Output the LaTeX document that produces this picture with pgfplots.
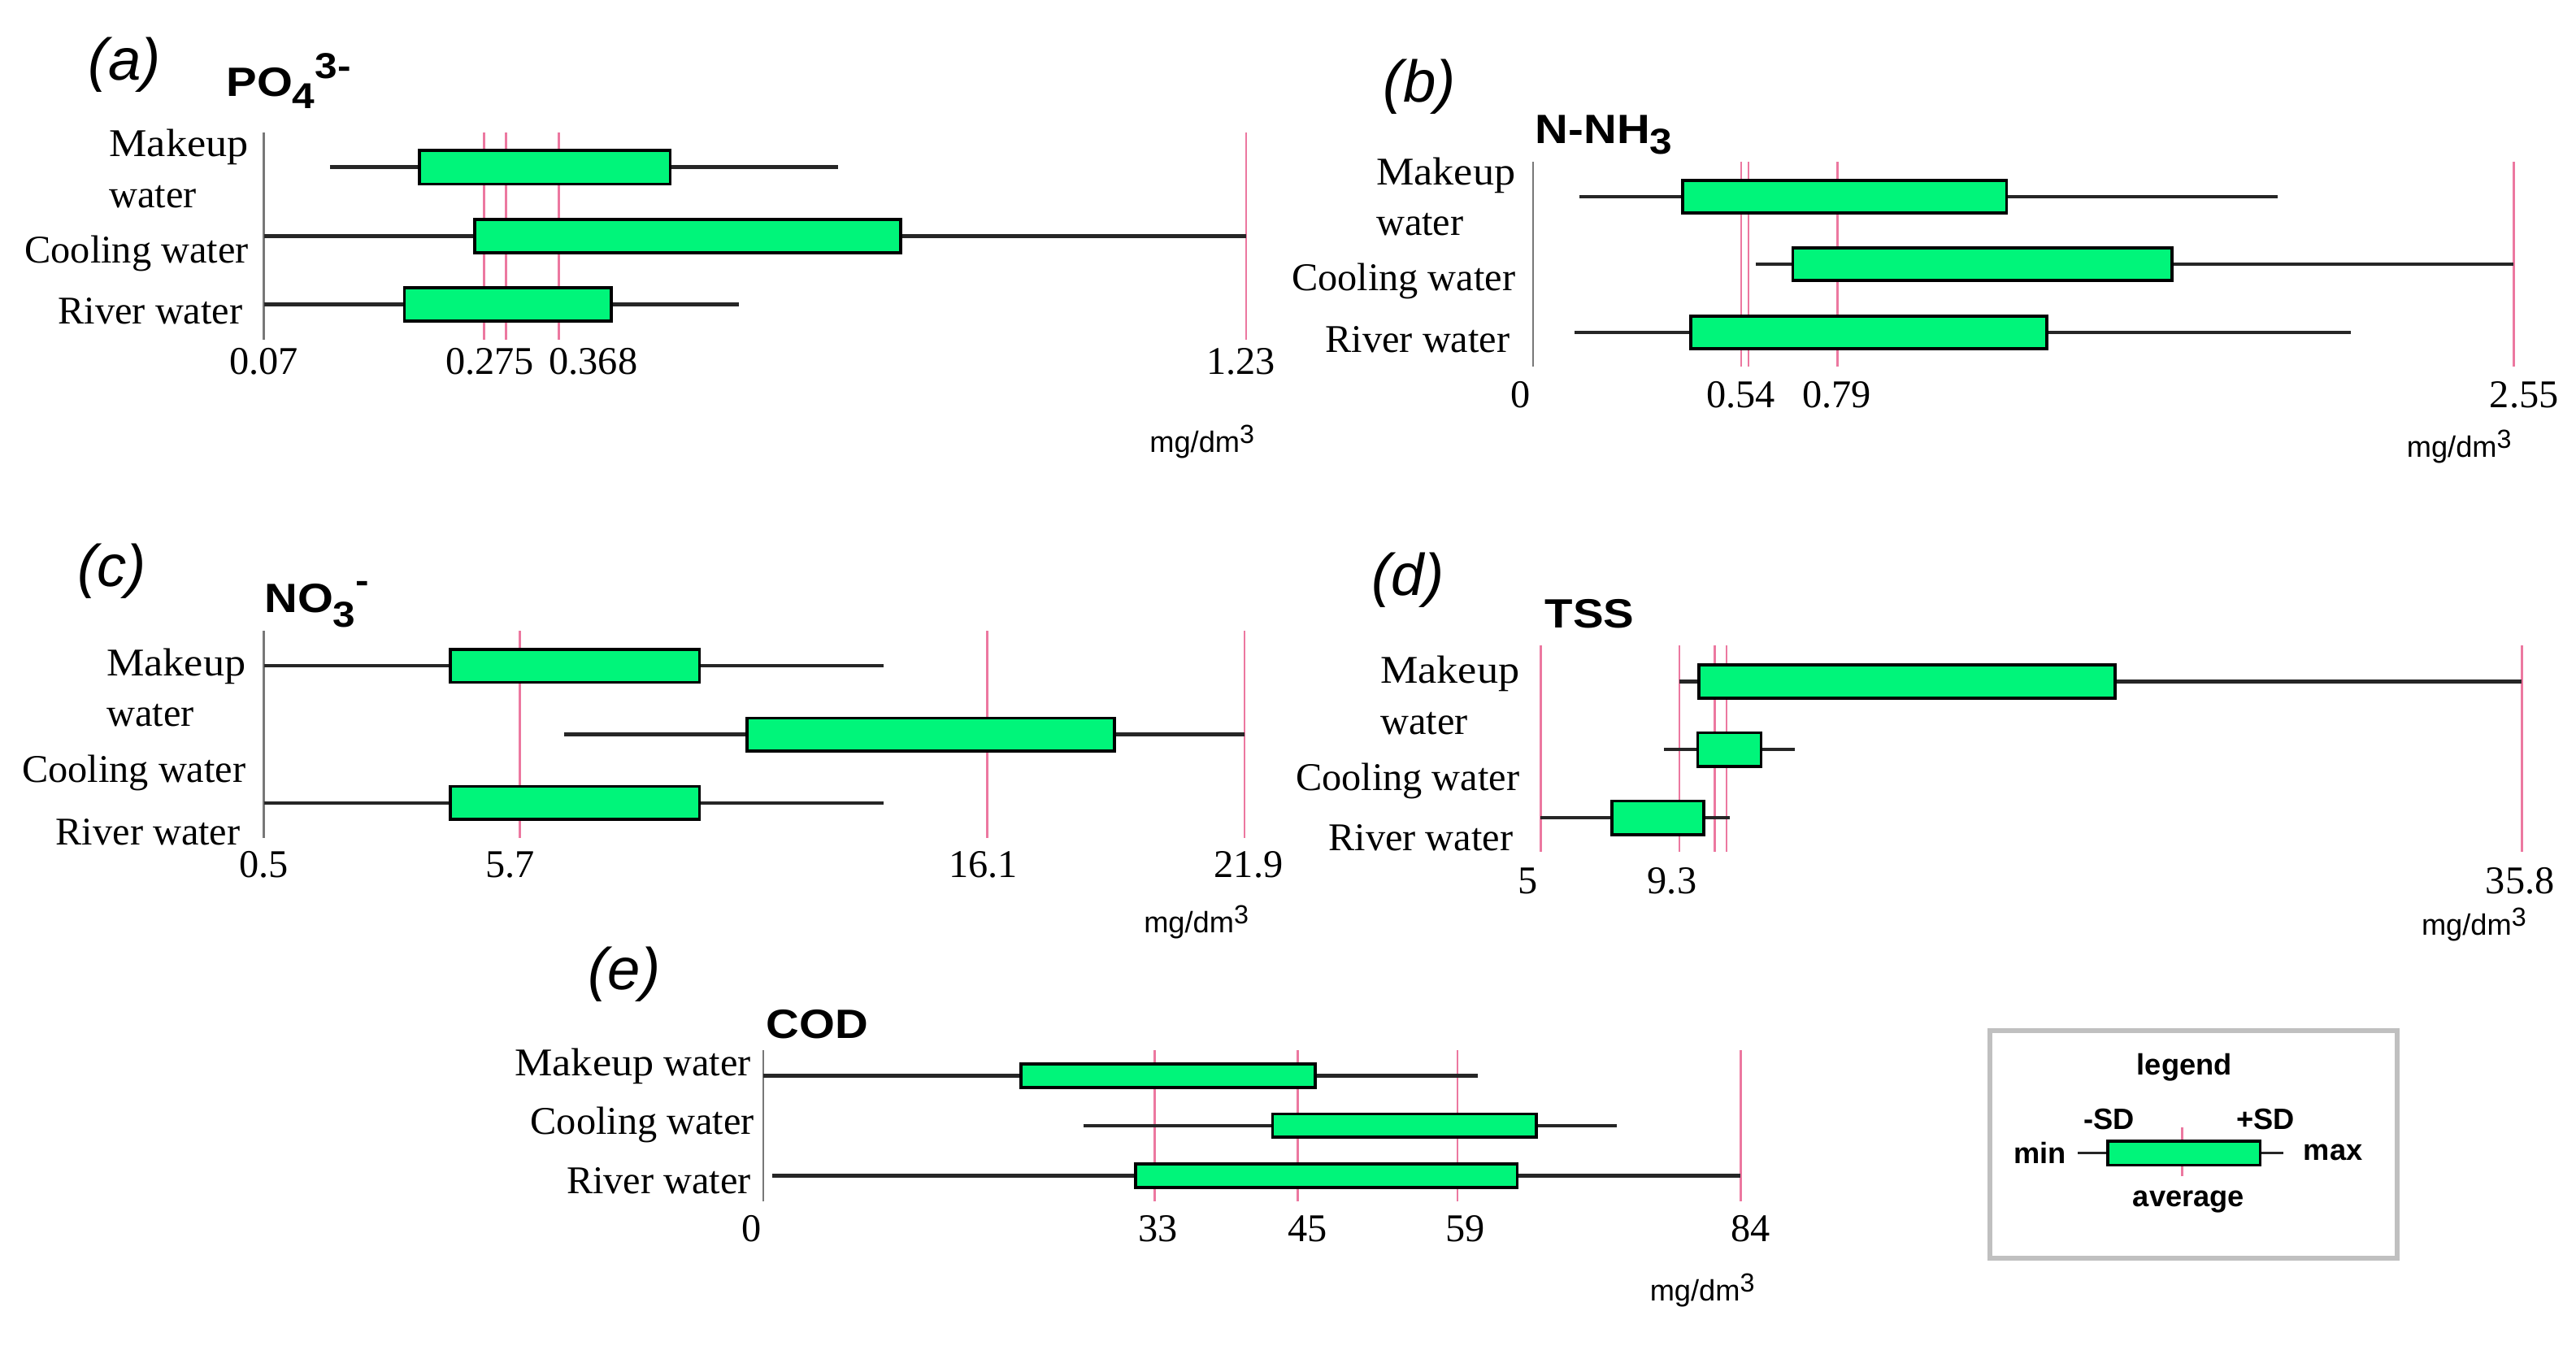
\documentclass[border=0pt]{standalone}
\usepackage{pgfplots}
\pgfplotsset{compat=1.18}
\usepackage{fontspec}
\setmainfont{Liberation Serif}
\setsansfont{Liberation Sans}
\usepackage{graphicx}
\definecolor{boxgreen}{RGB}{0,245,122}
\definecolor{pinkl}{RGB}{236,120,160}
\definecolor{axgray}{RGB}{120,120,120}
\definecolor{leggray}{RGB}{192,192,192}
\newcommand{\unitlab}{mg/dm\raisebox{2.8bp}{\fontsize{8}{9}\selectfont 3}}
\newcommand{\ttl}[1]{\scalebox{1.12}[1]{\sffamily\bfseries\fontsize{12.5}{14}\selectfont #1}}
\newcommand{\sub}[2]{\raisebox{#1}{\fontsize{11}{12}\selectfont #2}}
\pgfplotsset{
 panel/.style={anchor=south west, scale only axis, clip=false,
  axis lines*=left, x axis line style={draw=none},
  y axis line style={draw=axgray, line width=0.6bp},
  major tick length=0pt, tick style={draw=none},
  xticklabel style={font=\fontsize{12}{14}\selectfont, anchor=base, inner sep=0pt},
  yticklabel style={font=\fontsize{12}{15.5}\selectfont, anchor=east, align=left, inner sep=0pt}},
 pinkv/.style={draw=pinkl, line width=0.7bp, no marks, forget plot},
 whisk/.style={draw=black!85, line width=1.1bp, no marks},
 boxs/.style={draw=black, line width=0.9bp, fill=boxgreen, no marks},
}
\begin{document}
\begin{tikzpicture}
\path[use as bounding box, fill=white] (0,0) rectangle (784bp,409.5bp);

% ---------------- (a) PO4
\begin{axis}[panel, at={(80.3bp,306.1bp)}, width=298.95bp, height=63.15bp,
  xmin=0.07, xmax=1.23, ymin=-206.8, ymax=-80.5,
  xtick={0.07,0.337,0.459,1.224}, xticklabels={0.07,0.275,0.368,1.23},
  xticklabel style={yshift=-10.5bp},
  ytick={-189.6,-154.5,-102.6},
  yticklabels={{River water\hspace*{1.8bp}},{Cooling water},{\scalebox{1.08}[1]{Makeup}\\water}},
  yticklabel style={xshift=-4.5bp}]
\addplot[pinkv] coordinates {(0.330,-206.8) (0.330,-80.5)};
\addplot[pinkv] coordinates {(0.356,-206.8) (0.356,-80.5)};
\addplot[pinkv] coordinates {(0.418,-206.8) (0.418,-80.5)};
\addplot[pinkv] coordinates {(1.23,-206.8) (1.23,-80.5)};
\addplot[whisk] coordinates {(0.148,-101.8) (0.748,-101.8)};
\addplot[boxs] coordinates {(0.254,-112.0) (0.550,-112.0) (0.550,-91.6) (0.254,-91.6)} -- cycle;
\addplot[whisk] coordinates {(0.07,-143.7) (1.23,-143.7)};
\addplot[boxs] coordinates {(0.319,-153.9) (0.822,-153.9) (0.822,-133.5) (0.319,-133.5)} -- cycle;
\addplot[whisk] coordinates {(0.07,-185.4) (0.631,-185.4)};
\addplot[boxs] coordinates {(0.236,-195.6) (0.480,-195.6) (0.480,-175.2) (0.236,-175.2)} -- cycle;
\end{axis}

% ---------------- (b) N-NH3
\begin{axis}[panel, at={(466.6bp,297.8bp)}, width=298.4bp, height=62.5bp,
  xmin=0, xmax=2.55, ymin=-223.4, ymax=-98.4,
  xtick={0,0.54,0.79,2.55}, xticklabels={{0\hspace*{7.9bp}},0.54,0.79,{\hspace*{6.4bp}2.55}},
  xticklabel style={yshift=-12.35bp},
  ytick={-206.5,-171.1,-119.7},
  yticklabels={{River water\hspace*{1.7bp}},{Cooling water},{\scalebox{1.08}[1]{Makeup}\\water}},
  yticklabel style={xshift=-5.2bp}]
\addplot[pinkv] coordinates {(0.541,-223.4) (0.541,-98.4)};
\addplot[pinkv] coordinates {(0.560,-223.4) (0.560,-98.4)};
\addplot[pinkv] coordinates {(0.791,-223.4) (0.791,-98.4)};
\addplot[pinkv] coordinates {(2.55,-223.4) (2.55,-98.4)};
\addplot[whisk] coordinates {(0.1205,-119.7) (1.936,-119.7)};
\addplot[boxs] coordinates {(0.389,-129.7) (1.231,-129.7) (1.231,-109.7) (0.389,-109.7)} -- cycle;
\addplot[whisk] coordinates {(0.579,-160.8) (2.55,-160.8)};
\addplot[boxs] coordinates {(0.675,-170.8) (1.662,-170.8) (1.662,-150.8) (0.675,-150.8)} -- cycle;
\addplot[whisk] coordinates {(0.108,-202.4) (2.127,-202.4)};
\addplot[boxs] coordinates {(0.410,-212.4) (1.336,-212.4) (1.336,-192.4) (0.410,-192.4)} -- cycle;
\end{axis}

% ---------------- (c) NO3
\begin{axis}[panel, at={(80.3bp,154.45bp)}, width=298.45bp, height=63.05bp,
  xmin=0.5, xmax=21.9, ymin=-510.1, ymax=-384,
  xtick={0.5,5.88,16.2,21.9}, xticklabels={0.5,5.7,16.1,{\hspace*{2.5bp}21.9}},
  xticklabel style={yshift=-11.95bp},
  ytick={-506.5,-470.4,-418.5},
  yticklabels={{River water\hspace*{1.7bp}},{Cooling water},{\scalebox{1.08}[1]{Makeup}\\water}},
  yticklabel style={xshift=-5.3bp}]
\addplot[pinkv] coordinates {(6.09,-510.1) (6.09,-384)};
\addplot[pinkv] coordinates {(16.29,-510.1) (16.29,-384)};
\addplot[pinkv] coordinates {(21.9,-510.1) (21.9,-384)};
\addplot[whisk] coordinates {(0.5,-405.3) (14.02,-405.3)};
\addplot[boxs] coordinates {(4.573,-415.3) (10.005,-415.3) (10.005,-395.3) (4.573,-395.3)} -- cycle;
\addplot[whisk] coordinates {(7.054,-447.1) (21.9,-447.1)};
\addplot[boxs] coordinates {(11.04,-457.1) (19.06,-457.1) (19.06,-437.1) (11.04,-437.1)} -- cycle;
\addplot[whisk] coordinates {(0.5,-488.8) (14.02,-488.8)};
\addplot[boxs] coordinates {(4.573,-498.8) (10.005,-498.8) (10.005,-478.8) (4.573,-478.8)} -- cycle;
\end{axis}

% ---------------- (d) TSS
\begin{axis}[panel, at={(468.85bp,150.15bp)}, width=298.6bp, height=62.8bp,
  y axis line style={draw=none},
  xmin=5, xmax=35.8, ymin=-518.7, ymax=-393.1,
  xtick={5,9.13,35.75}, xticklabels={{5\hspace*{7.5bp}},9.3,35.8},
  xticklabel style={yshift=-12.7bp},
  ytick={-509.9,-475.3,-423.3},
  yticklabels={{River water\hspace*{2bp}},{Cooling water},{\scalebox{1.08}[1]{Makeup}\\water}},
  yticklabel style={xshift=-6.2bp}]
\addplot[pinkv] coordinates {(5,-518.7) (5,-393.1)};
\addplot[pinkv] coordinates {(9.36,-518.7) (9.36,-393.1)};
\addplot[pinkv] coordinates {(10.46,-518.7) (10.46,-393.1)};
\addplot[pinkv] coordinates {(10.84,-518.7) (10.84,-393.1)};
\addplot[pinkv] coordinates {(35.8,-518.7) (35.8,-393.1)};
\addplot[whisk] coordinates {(9.36,-414.9) (35.8,-414.9)};
\addplot[boxs] coordinates {(9.98,-425.1) (23.04,-425.1) (23.04,-404.7) (9.98,-404.7)} -- cycle;
\addplot[whisk] coordinates {(8.88,-456.3) (12.98,-456.3)};
\addplot[boxs] coordinates {(9.93,-466.5) (11.92,-466.5) (11.92,-446.1) (9.93,-446.1)} -- cycle;
\addplot[whisk] coordinates {(5,-497.8) (10.95,-497.8)};
\addplot[boxs] coordinates {(7.24,-508.0) (10.13,-508.0) (10.13,-487.6) (7.24,-487.6)} -- cycle;
\end{axis}

% ---------------- (e) COD
\begin{axis}[panel, at={(232.3bp,43.75bp)}, width=297.45bp, height=46bp,
  xmin=0, xmax=84, ymin=-731.5, ymax=-639.5,
  xtick={0,33.94,46.77,60.32,84}, xticklabels={{0\hspace*{7.1bp}},33,45,59,{\hspace*{6bp}84}},
  xticklabel style={yshift=-12.1bp},
  ytick={-718.8,-684.8,-649.3},
  yticklabels={{River water\hspace*{1bp}},{Cooling water},{\scalebox{1.08}[1]{Makeup} water\hspace*{1bp}}},
  yticklabel style={xshift=-2.55bp}]
\addplot[pinkv] coordinates {(33.65,-731.5) (33.65,-639.5)};
\addplot[pinkv] coordinates {(45.92,-731.5) (45.92,-639.5)};
\addplot[pinkv] coordinates {(59.67,-731.5) (59.67,-639.5)};
\addplot[pinkv] coordinates {(84,-731.5) (84,-639.5)};
\addplot[whisk] coordinates {(0,-654.9) (61.40,-654.9)};
\addplot[boxs] coordinates {(22.17,-662.0) (47.42,-662.0) (47.42,-647.8) (22.17,-647.8)} -- cycle;
\addplot[whisk] coordinates {(27.52,-685.2) (73.37,-685.2)};
\addplot[boxs] coordinates {(43.77,-692.3) (66.45,-692.3) (66.45,-678.1) (43.77,-678.1)} -- cycle;
\addplot[whisk] coordinates {(0.78,-715.8) (84,-715.8)};
\addplot[boxs] coordinates {(32.01,-722.9) (64.81,-722.9) (64.81,-708.7) (32.01,-708.7)} -- cycle;
\end{axis}

% ---------------- legend
\begin{axis}[anchor=south west, at={(605.55bp,26.45bp)}, scale only axis, width=124.1bp, height=69.25bp,
  xmin=1211.1, xmax=1459.3, ymin=-766.1, ymax=-627.6, xtick=\empty, ytick=\empty,
  axis line style={draw=leggray, line width=1.5bp}, clip=false]
\addplot[pinkv] coordinates {(1328.3,-716.1) (1328.3,-686.2)};
\addplot[whisk, line width=0.8bp] coordinates {(1264.8,-702) (1389.9,-702)};
\addplot[boxs] coordinates {(1283.1,-709.2) (1375.7,-709.2) (1375.7,-694.7) (1283.1,-694.7)} -- cycle;
\begin{scope}[every node/.style={font=\sffamily\bfseries\fontsize{9}{10}\selectfont, inner sep=0pt}]
\node at (axis cs:1329.6,-649.8) {legend};
\node at (axis cs:1283.6,-681.2) {-SD};
\node at (axis cs:1379.1,-681.2) {+SD};
\node at (axis cs:1241.8,-701.8) {min};
\node at (axis cs:1420.1,-701.8) {max};
\node at (axis cs:1332.2,-731.5) {average};
\end{scope}
\end{axis}

% ---------------- panel letters
\begin{scope}[every node/.style={font=\sffamily\itshape\fontsize{18}{20}\selectfont, inner sep=0pt}]
\node at (37.9bp,389.85bp) {(a)};
\node at (432bp,383bp) {(b)};
\node at (34.1bp,235.6bp) {(c)};
\node at (428.5bp,233bp) {(d)};
\node at (190bp,113bp) {(e)};
\end{scope}

% ---------------- titles
\node[anchor=base west, inner sep=0pt] at (68.7bp,380.2bp) {\ttl{PO\sub{-3.7bp}{4}\sub{5.5bp}{3-}}};
\node[anchor=base west, inner sep=0pt] at (467.1bp,365.9bp) {\ttl{N-NH\sub{-3.3bp}{3}}};
\node[anchor=base west, inner sep=0pt] at (80.3bp,223.05bp) {\ttl{NO\sub{-4.3bp}{3}\sub{6bp}{-}}};
\node[anchor=base west, inner sep=0pt] at (470.05bp,218.3bp) {\ttl{TSS}};
\node[anchor=base west, inner sep=0pt] at (233.05bp,93.35bp) {\ttl{COD}};

% ---------------- units
\begin{scope}[every node/.style={anchor=base west, inner sep=0pt, font=\sffamily\fontsize{9}{10}\selectfont}]
\node at (349.7bp,271.8bp) {\unitlab};
\node at (732.3bp,270.3bp) {\unitlab};
\node at (347.95bp,125.5bp) {\unitlab};
\node at (736.8bp,124.75bp) {\unitlab};
\node at (501.95bp,13.5bp) {\unitlab};
\end{scope}
\end{tikzpicture}
\end{document}
